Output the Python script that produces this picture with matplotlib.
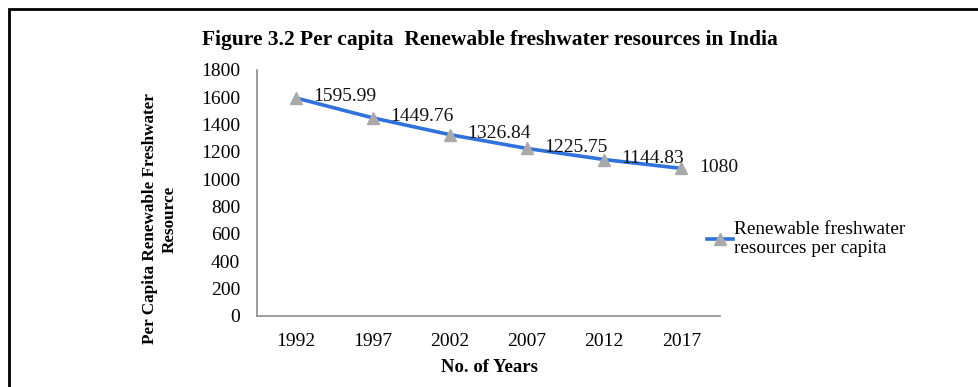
import matplotlib.pyplot as plt
from matplotlib.patches import Rectangle

plt.rcParams['font.family'] = ['Liberation Serif', 'DejaVu Serif']

years = ['1992', '1997', '2002', '2007', '2012', '2017']
water = [1595.99, 1449.76, 1326.84, 1225.75, 1144.83, 1080]
labels = ['1595.99', '1449.76', '1326.84', '1225.75', '1144.83', '1080']

W, H = 979, 387
fig = plt.figure(figsize=(W / 100, H / 100), dpi=100)
ax = fig.add_axes([257 / W, 1 - 316 / H, 463 / W, 246 / H])

x = range(len(years))
ax.plot(x, water, color='#3072dc', lw=2.6, marker='^', markersize=9,
        markerfacecolor='#a9a9a9', markeredgecolor='#a9a9a9', zorder=3,
        label='Renewable freshwater\nresources per capita')

# value labels to the right of each point
for i, (v, s) in enumerate(zip(water, labels)):
    ax.annotate(s, (i, v), xytext=(12.5, 1), textcoords='offset points',
                fontsize=14, ha='left', va='center', color='#111111', zorder=4)

ax.set_xlim(-0.5, len(years) - 0.5)
ax.set_ylim(0, 1800)
ax.set_yticks(range(0, 1801, 200))
ax.set_xticks(list(x))
ax.set_xticklabels(years)
ax.tick_params(length=0, labelsize=14)
ax.tick_params(axis='x', pad=12)
ax.tick_params(axis='y', pad=12)

for side in ['top', 'right']:
    ax.spines[side].set_visible(False)
for side in ['left', 'bottom']:
    ax.spines[side].set_color('#8c8c8c')
    ax.spines[side].set_linewidth(1.2)

fig.text(490 / W, 1 - 368 / H, 'No. of Years', ha='center', va='center',
         fontsize=13.5, fontweight='bold')
fig.text(160 / W, 1 - 219 / H, 'Per Capita Renewable Freshwater\nResource',
         ha='center', va='center', rotation=90, fontsize=12.3,
         fontweight='bold', linespacing=1.25)

fig.text(490 / W, 1 - 40 / H,
         'Figure 3.2 Per capita  Renewable freshwater resources in India',
         ha='center', va='center', fontsize=15.5, fontweight='bold')

ax.legend(loc='center left', bbox_to_anchor=(697 / W, 1 - 239 / H),
          bbox_transform=fig.transFigure, frameon=False, borderpad=0,
          fontsize=13.9, handlelength=1.35, handletextpad=0.08,
          labelspacing=0.2)

# outer frame
fig.patches.append(Rectangle((9 / W, -0.1), 1.2, 0.1 + 1 - 9 / H,
                             transform=fig.transFigure, fill=False,
                             edgecolor='black', lw=2))

fig.savefig('out.png', dpi=100)
